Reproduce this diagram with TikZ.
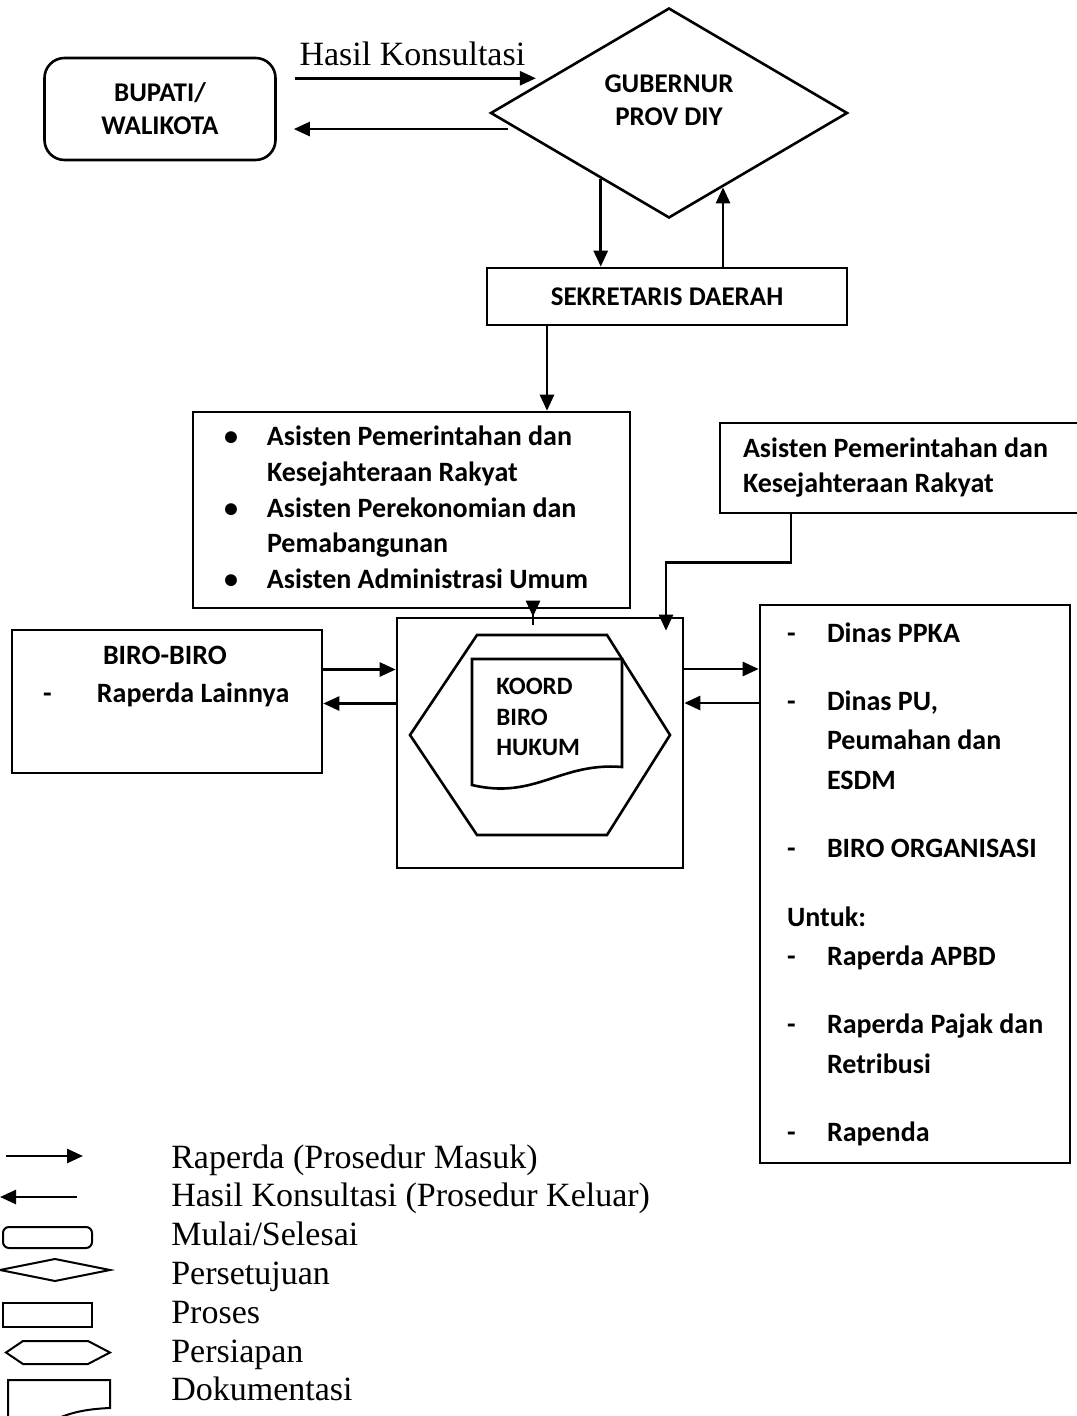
\documentclass[tikz,border=0pt]{standalone}
\usepackage{fontspec}
\setmainfont{Liberation Serif}
\newfontfamily\calfont{Carlito}
\usepackage{tikz}
\usetikzlibrary{positioning, arrows.meta, calc, shapes.geometric}
\tikzset{
  proc/.style={draw,line width=1.3pt,inner sep=0pt,font=\calfont\bfseries\fontsize{14}{17.85}\selectfont},
  topf/.style={font=\calfont\bfseries\fontsize{13.5}{16.5}\selectfont},
  legtxt/.style={anchor=base west,inner sep=0pt,font=\fontsize{17}{19.5}\selectfont},
}

\begin{document}
\begin{tikzpicture}[x=0.5pt,y=-0.5pt,line width=1.3pt,>={Triangle[length=8pt,width=7pt]}]
  \useasboundingbox (0,0) rectangle (1076,1416);
  \node[proc,topf,rounded corners=10pt,align=center,minimum width=115.5pt,minimum height=51pt] (bupati) at (160,109) {BUPATI/\\WALIKOTA};
  \node[proc,topf,diamond,align=center,minimum width=178.5pt,minimum height=105pt] (gub) at (669,113) {GUBERNUR\\PROV DIY\\[-4pt]\mbox{}};
  \node[proc,topf,minimum width=180pt,minimum height=28.5pt] (sekda) at (667,296.5) {SEKRETARIS DAERAH};
  \node[proc,minimum width=218.5pt,minimum height=98pt] (asisten) at (411.5,510) {\makebox[187.5pt][l]{\begin{tabular}{@{}p{21.5pt}@{}l@{}}
    \textbullet & Asisten Pemerintahan dan\\
                & Kesejahteraan Rakyat\\
    \textbullet & Asisten Perekonomian dan\\
                & Pemabangunan\\
    \textbullet & Asisten Administrasi Umum
  \end{tabular}}};
  \node[proc,font=\calfont\bfseries\fontsize{14}{17.5}\selectfont,minimum width=185pt,minimum height=45pt] (asisten2) at (905,468) {\makebox[162pt][l]{\begin{tabular}{@{}l@{}}Asisten Pemerintahan dan\\Kesejahteraan Rakyat\end{tabular}}};
  \node[proc,minimum width=143pt,minimum height=125pt] (outer) at (540,743) {};
  \draw (477,635) -- (607,635) -- (670,735) -- (607,835) -- (477,835) -- (410,735) -- cycle;
  \draw[fill=white] (472,659) -- (622,659) -- (622,767) .. controls (560,762) and (535,800) .. (472,785) -- cycle;
  \node[font=\calfont\bfseries\fontsize{12.5}{15.25}\selectfont,align=left,inner sep=0pt,anchor=west] (koord) at (495,717) {KOORD\\BIRO\\HUKUM};
  \node[proc,font=\calfont\bfseries\fontsize{14}{19}\selectfont,minimum width=155pt,minimum height=71.5pt] (biro) at (167,701.5) {\makebox[124pt][l]{\begin{tabular}{@{}p{27pt}@{}l@{}}
    \multicolumn{2}{@{}l@{}}{\hspace*{30pt}BIRO-BIRO}\\
    - & Raperda Lainnya\\[7pt]
      &
  \end{tabular}}};
  \node[proc,font=\calfont\bfseries\fontsize{14}{19.7}\selectfont,minimum width=155pt,minimum height=279pt] (dinas) at (915,884) {\makebox[128pt][l]{\begin{tabular}{@{}p{20pt}@{}l@{}}
    - & Dinas PPKA\\[14.5pt]
    - & Dinas PU,\\
      & Peumahan dan\\
      & ESDM\\[14.5pt]
    - & BIRO ORGANISASI\\[14.5pt]
    \multicolumn{2}{@{}l@{}}{Untuk:}\\
    - & Raperda APBD\\[14.5pt]
    - & Raperda Pajak dan\\
      & Retribusi\\[14.5pt]
    - & Rapenda
  \end{tabular}}};

  \draw[->,shorten <=9pt,shorten >=6pt] (bupati.east |- gub.164) -- node[above=2pt,font=\fontsize{17}{19.5}\selectfont] (hk) {Hasil Konsultasi} (gub.164);
  \draw[->,shorten <=4pt,shorten >=8.5pt] (gub.186) -- (bupati.east |- gub.186);
  \draw[->] (gub.224) -- (gub.224 |- sekda.north);
  \draw[->] (gub.306 |- sekda.north) -- (gub.306);
  \draw[->] ([xshift=-60pt]sekda.south) -- ([xshift=-60pt]sekda.south |- asisten.north);
  \draw[->,shorten <=-8pt] ([xshift=-3.5pt]outer.north |- asisten.south) -- ([xshift=-3.5pt]outer.north);
  \draw[->,shorten >=-7pt] ([xshift=-57pt]asisten2.south) |- ([xshift=63pt,yshift=27pt]outer.north) -- ([xshift=63pt]outer.north);
  \draw[->] ([yshift=16pt]biro.east) -- ([yshift=16pt]biro.east -| outer.west);
  \draw[->] ([yshift=-1pt]biro.east -| outer.west) -- ([yshift=-1pt]biro.east);
  \draw[->] ([yshift=37pt]outer.east) -- ([yshift=37pt]outer.east -| dinas.west);
  \draw[->] ([yshift=20pt]outer.east -| dinas.west) -- ([yshift=20pt]outer.east);

  % legenda
  \draw[->] (6,1156) -- (83,1156);
  \draw[->] (77,1197) -- (0,1197);
  \draw[line width=1pt,rounded corners=3pt] (3,1227) rectangle (92,1248);
  \draw[line width=1pt] (0,1270) -- (55,1259) -- (110,1270) -- (55,1281) -- cycle;
  \draw[line width=1pt] (3,1303) rectangle (92,1327);
  \draw[line width=1pt] (6,1352.5) -- (23,1341) -- (88,1341) -- (110,1352.5) -- (88,1364) -- (23,1364) -- cycle;
  \draw[line width=1pt] (8,1430) -- (8,1380) -- (110,1380) -- (110,1408) .. controls (85,1409) and (65,1413) .. (45,1425);
  \foreach \txt [count=\i] in {Raperda (Prosedur Masuk), Hasil Konsultasi (Prosedur Keluar), Mulai/Selesai, Persetujuan, Proses, Persiapan, Dokumentasi}
    \node[legtxt] (leg\i) at (170,{1168+38.8*(\i-1)}) {\txt};
\end{tikzpicture}
\end{document}
